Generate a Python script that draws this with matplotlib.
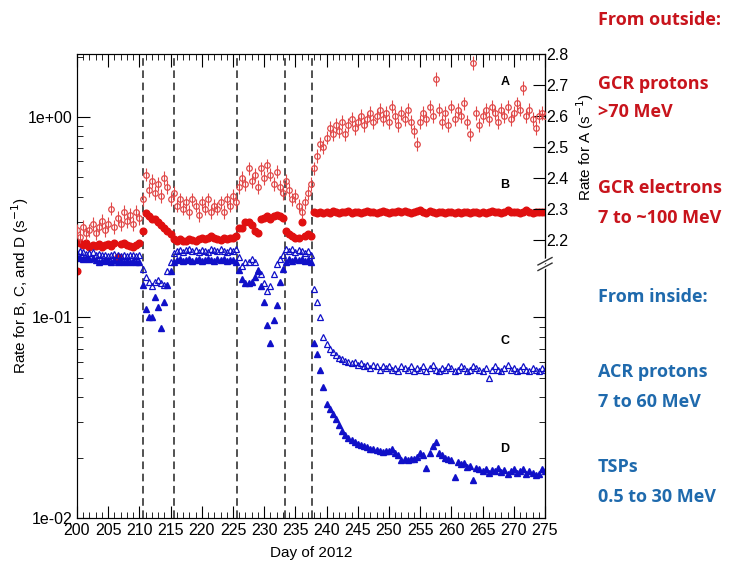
import numpy as np
import matplotlib.pyplot as plt
from matplotlib.ticker import FixedLocator, MultipleLocator, NullFormatter

# half-day bins, day 200.0 .. 275.0
days = np.arange(200, 275.25, 0.5)

# A: GCR protons (right axis, linear)
rate_a = [2.23, 2.21, 2.24, 2.22, 2.23, 2.25, 2.22, 2.24, 2.26, 2.23,
          2.25, 2.30, 2.24, 2.27, 2.25, 2.29, 2.26, 2.28, 2.25, 2.29,
          2.27, 2.33, 2.41, 2.36, 2.39, 2.35, 2.38, 2.34, 2.40, 2.37,
          2.33, 2.35, 2.31, 2.33, 2.30, 2.32, 2.29, 2.33, 2.31, 2.28,
          2.32, 2.30, 2.33, 2.29, 2.31, 2.30, 2.32, 2.29, 2.33, 2.31,
          2.34, 2.32, 2.37, 2.40, 2.38, 2.43, 2.39, 2.41, 2.37, 2.43,
          2.40, 2.44, 2.41, 2.38, 2.42, 2.37, 2.35, 2.39, 2.36, 2.33,
          2.34, 2.31, 2.29, 2.32, 2.35, 2.38, 2.43, 2.47, 2.51, 2.50,
          2.53, 2.56, 2.54, 2.57, 2.55, 2.58, 2.54, 2.57, 2.59, 2.56,
          2.58, 2.60, 2.57, 2.59, 2.61, 2.58, 2.60, 2.62, 2.59, 2.61,
          2.58, 2.63, 2.60, 2.57, 2.61, 2.59, 2.62, 2.58, 2.55, 2.51,
          2.58, 2.61, 2.59, 2.63, 2.60, 2.72, 2.62, 2.58, 2.61, 2.57,
          2.63, 2.59, 2.62, 2.60, 2.64, 2.58, 2.54, 2.77, 2.61, 2.57,
          2.60, 2.62, 2.59, 2.63, 2.61, 2.58, 2.62, 2.60, 2.63, 2.59,
          2.61, 2.64, 2.62, 2.69, 2.60, 2.62, 2.59, 2.56, 2.60, 2.61,
          2.60]
err_a = 0.022

# B: GCR electrons
rate_b = [0.170, 0.235, 0.230, 0.235, 0.225, 0.230, 0.228, 0.232, 0.225, 0.230,
          0.233, 0.228, 0.235, 0.200, 0.232, 0.236, 0.230, 0.228, 0.225, 0.230,
          0.235, 0.270, 0.330, 0.320, 0.310, 0.310, 0.300, 0.290, 0.280, 0.270,
          0.260, 0.245, 0.240, 0.245, 0.242, 0.240, 0.245, 0.243, 0.240, 0.246,
          0.250, 0.245, 0.248, 0.255, 0.250, 0.247, 0.243, 0.250, 0.246, 0.250,
          0.248, 0.255, 0.280, 0.280, 0.300, 0.300, 0.290, 0.270, 0.265, 0.310,
          0.315, 0.320, 0.310, 0.320, 0.325, 0.320, 0.315, 0.270, 0.260, 0.255,
          0.250, 0.250, 0.300, 0.255, 0.260, 0.255, 0.335, 0.330, 0.335, 0.332,
          0.336, 0.333, 0.338, 0.334, 0.331, 0.336, 0.334, 0.338, 0.333, 0.335,
          0.337, 0.332, 0.335, 0.339, 0.334, 0.336, 0.331, 0.335, 0.338, 0.334,
          0.333, 0.337, 0.335, 0.340, 0.334, 0.338, 0.336, 0.332, 0.337, 0.341,
          0.344, 0.336, 0.333, 0.338, 0.335, 0.330, 0.334, 0.337, 0.333, 0.336,
          0.334, 0.331, 0.336, 0.333, 0.337, 0.334, 0.332, 0.336, 0.335, 0.333,
          0.336, 0.333, 0.335, 0.338, 0.334, 0.336, 0.333, 0.337, 0.342, 0.335,
          0.334, 0.337, 0.333, 0.336, 0.344, 0.335, 0.333, 0.336, 0.334, 0.337,
          0.336]

# C: ACR protons
rate_c = [0.210, 0.215, 0.212, 0.208, 0.210, 0.213, 0.205, 0.208, 0.204, 0.206,
          0.203, 0.205, 0.207, 0.204, 0.202, 0.205, 0.203, 0.206, 0.204, 0.202,
          0.205, 0.175, 0.160, 0.150, 0.143, 0.151, 0.154, 0.148, 0.146, 0.170,
          0.190, 0.210, 0.215, 0.218, 0.213, 0.216, 0.220, 0.214, 0.217, 0.212,
          0.218, 0.215, 0.213, 0.219, 0.216, 0.214, 0.220, 0.215, 0.212, 0.217,
          0.215, 0.220, 0.200, 0.180, 0.190, 0.190, 0.195, 0.190, 0.173, 0.165,
          0.148, 0.135, 0.143, 0.165, 0.185, 0.195, 0.205, 0.220, 0.215, 0.220,
          0.212, 0.218, 0.215, 0.210, 0.214, 0.205, 0.138, 0.120, 0.100, 0.080,
          0.074, 0.070, 0.067, 0.065, 0.063, 0.062, 0.061, 0.060, 0.059, 0.060,
          0.058, 0.059, 0.057, 0.058, 0.056, 0.058, 0.057, 0.055, 0.057, 0.056,
          0.057, 0.055, 0.056, 0.054, 0.057, 0.056, 0.055, 0.057, 0.054, 0.056,
          0.055, 0.057, 0.054, 0.056, 0.058, 0.055, 0.054, 0.056, 0.055, 0.057,
          0.056, 0.054, 0.055, 0.057, 0.056, 0.054, 0.055, 0.057, 0.056, 0.055,
          0.054, 0.056, 0.050, 0.055, 0.057, 0.055, 0.054, 0.056, 0.058, 0.055,
          0.056, 0.054, 0.055, 0.057, 0.055, 0.054, 0.056, 0.055, 0.054, 0.056,
          0.055]

# D: TSPs
rate_d = [0.200, 0.198, 0.196, 0.199, 0.195, 0.197, 0.193, 0.190, 0.192, 0.194,
          0.191, 0.189, 0.193, 0.190, 0.192, 0.188, 0.191, 0.189, 0.192, 0.190,
          0.188, 0.145, 0.110, 0.100, 0.100, 0.127, 0.113, 0.089, 0.120, 0.146,
          0.170, 0.190, 0.193, 0.195, 0.192, 0.194, 0.196, 0.191, 0.193, 0.195,
          0.192, 0.194, 0.196, 0.193, 0.191, 0.195, 0.193, 0.196, 0.192, 0.194,
          0.193, 0.190, 0.173, 0.155, 0.149, 0.149, 0.150, 0.160, 0.170, 0.143,
          0.120, 0.092, 0.075, 0.097, 0.116, 0.150, 0.175, 0.190, 0.195, 0.192,
          0.196, 0.193, 0.195, 0.191, 0.194, 0.190, 0.075, 0.066, 0.055, 0.045,
          0.037, 0.035, 0.033, 0.031, 0.029, 0.027, 0.026, 0.025, 0.0245, 0.024,
          0.0235, 0.023, 0.0228, 0.0225, 0.0222, 0.022, 0.0218, 0.0215, 0.0213, 0.0216,
          0.0215, 0.022, 0.0212, 0.0205, 0.0195, 0.0197, 0.0194, 0.0196, 0.0198, 0.0202,
          0.021, 0.0205, 0.0178, 0.021, 0.0228, 0.024, 0.021, 0.0205, 0.020, 0.0198,
          0.0195, 0.016, 0.019, 0.0185, 0.0188, 0.018, 0.0182, 0.0155, 0.0178, 0.0175,
          0.0172, 0.0176, 0.0168, 0.0174, 0.0171, 0.0177, 0.0169, 0.0173, 0.0166, 0.0172,
          0.0175, 0.0168, 0.0171, 0.0176, 0.0165, 0.0172, 0.0167, 0.0163, 0.0166, 0.0175,
          0.0172]

# boundary crossings
crossings = [210.5, 215.5, 225.6, 233.4, 237.7]

outside_lines = ["From outside:", "GCR protons", ">70 MeV", "GCR electrons", "7 to ~100 MeV"]
outside_y = [20, 84, 112, 188, 218]
inside_lines = ["From inside:", "ACR protons", "7 to 60 MeV", "TSPs", "0.5 to 30 MeV"]
inside_y = [297, 372, 402, 467, 497]

plt.rcParams['font.family'] = ['Liberation Sans', 'DejaVu Sans']

W, H = 738, 571
fig = plt.figure(figsize=(W / 100, H / 100), dpi=100)
ax1 = fig.add_axes([77 / W, 1 - 518 / H, 468 / W, 464 / H])

red = '#e01010'
red_light = '#e04848'
blue = '#1010c8'

ax1.plot(days, rate_b, 'o', color=red, ms=4.8, mec=red, zorder=3)
ax1.plot(days, rate_c, '^', mfc='none', mec=blue, ms=4.5, mew=0.9, zorder=3)
ax1.plot(days, rate_d, '^', color=blue, ms=5, zorder=3)

ax1.set_yscale('log')
ax1.set_ylim(0.01, 2.06)
ax1.set_xlim(200, 275)
ax1.set_yticks([0.01, 0.1, 1.0])
ax1.set_yticklabels(['1e-02', '1e-01', '1e+00'])
ax1.yaxis.set_minor_formatter(NullFormatter())
ax1.xaxis.set_major_locator(MultipleLocator(5))
ax1.xaxis.set_minor_locator(MultipleLocator(1))
ax1.tick_params(axis='x', which='both', direction='in', top=True, labelsize=11.5)
ax1.tick_params(axis='x', which='major', length=9)
ax1.tick_params(axis='x', which='minor', length=4)
ax1.tick_params(axis='y', which='both', direction='in', right=False, labelsize=11.5)
ax1.tick_params(axis='y', which='major', length=9)
ax1.tick_params(axis='y', which='minor', length=4)

for d in crossings:
    ax1.axvline(d, color='#222222', lw=1.1, ls=(0, (5, 3)), zorder=2)

ax1.set_xlabel('Day of 2012', fontsize=11, labelpad=6)
ax1.set_ylabel('Rate for B, C, and D (s$^{-1}$)', fontsize=11)
ax1.yaxis.set_label_coords((31 - 77) / 468, 0.5)

# log ticks on the right, below the axis break only
sec = ax1.secondary_yaxis('right')
sec.yaxis.set_major_locator(FixedLocator([0.01, 0.1]))
sec.yaxis.set_minor_locator(FixedLocator([0.02, 0.03, 0.04, 0.05, 0.06, 0.07, 0.08, 0.09]))
sec.tick_params(which='both', direction='in', labelright=False)
sec.tick_params(which='major', length=9)
sec.tick_params(which='minor', length=4)
sec.yaxis.set_minor_formatter(NullFormatter())

# A on its own linear scale
ax2 = ax1.twinx()
ax2.errorbar(days, rate_a, yerr=err_a, fmt='o', mfc='none', mec=red_light,
             ecolor=red_light, ms=4, mew=0.9, elinewidth=0.8, capsize=0, zorder=3)
ax2.set_ylim(1.30, 2.8)
ax2.set_yticks(np.arange(2.2, 2.81, 0.1))
ax2.set_yticklabels([f'{v:.1f}' for v in np.arange(2.2, 2.81, 0.1)])
ax2.tick_params(axis='y', direction='in', length=9, labelsize=11.5, pad=1)
ax2.set_ylabel('Rate for A (s$^{-1}$)', fontsize=11)
ax2.yaxis.set_label_coords((574 - 77) / 468, 0.80)

# axis break marks on the right spine
yb = (2.13 - 1.30) / (2.8 - 1.30)
for off in (-0.012, 0.0):
    ax2.plot([0.985, 1.015], [yb + off - 0.008, yb + off + 0.008], color='white',
             lw=3, transform=ax2.transAxes, clip_on=False, zorder=5)
for off in (-0.012, 0.0):
    ax2.plot([0.985, 1.015], [yb + off - 0.008, yb + off + 0.008], color='#333333',
             lw=1, transform=ax2.transAxes, clip_on=False, zorder=6)

for spine in ax1.spines.values():
    spine.set_color('#333333')

# series labels
ax1.text(268.6, 1.49, 'A', fontsize=9, fontweight='bold', ha='center', va='center')
ax1.text(268.6, 0.46, 'B', fontsize=9, fontweight='bold', ha='center', va='center')
ax1.text(268.6, 0.076, 'C', fontsize=9, fontweight='bold', ha='center', va='center')
ax1.text(268.6, 0.022, 'D', fontsize=9, fontweight='bold', ha='center', va='center')

# side annotations
txt_red = '#c8141c'
txt_blue = '#1f6aad'
for t, y in zip(outside_lines, outside_y):
    fig.text(598 / W, 1 - y / H, t, color=txt_red, fontsize=13, fontweight='bold',
             family='Open Sans', va='center')
for t, y in zip(inside_lines, inside_y):
    fig.text(598 / W, 1 - y / H, t, color=txt_blue, fontsize=13, fontweight='bold',
             family='Open Sans', va='center')

fig.savefig('out.png', dpi=100)
